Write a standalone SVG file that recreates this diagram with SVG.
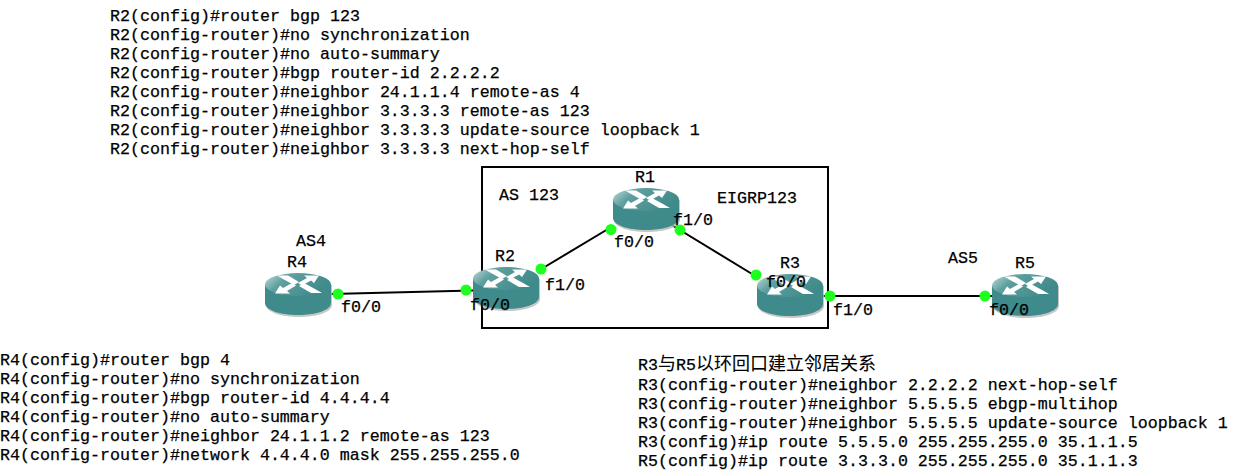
<svg xmlns="http://www.w3.org/2000/svg" width="1237" height="470" viewBox="0 0 1237 470">
<style>
text{font-family:"Liberation Mono","Noto Sans CJK SC",monospace;font-size:16.67px;fill:#000;stroke:#000;stroke-width:.25px}
.k{font-size:18px;stroke-width:.1px}
.c{fill:none;stroke:#000;stroke-width:2}
.d{fill:#1dff1d;stroke:none}
</style>
<defs>
<linearGradient id="top" x1="0" y1="0" x2="1" y2="0.4"><stop offset="0" stop-color="#c4dcdc"/><stop offset=".35" stop-color="#5f9f9f"/><stop offset="1" stop-color="#3f8a8a"/></linearGradient>
<g id="router">
<path d="M1 12V32C1 39 16 44 34 44C52 44 67 39 67 32V12Z" fill="#b9b9b9" opacity=".8"/>
<path d="M0 11.500V30C0 37 15 42 33 42C51 42 66 37 66 30V11.500Z" fill="#3f8a8a"/>
<ellipse cx="33" cy="11.500" rx="33" ry="11.500" fill="url(#top)"/>
<g fill="#fff">
<path d="M12 2.500H23L34 9L29 12L18 6Z"/>
<path d="M54 2.500H39L42 5L33 10L37 12.500L46 7.500L49 10Z"/>
<path d="M10 20.500H25L22 18L31 12.500L27 10L18 15L15 12.500Z"/>
<path d="M57 20H46L34 13L39 10L50 16Z"/>
</g>
</g>
</defs>
<g id="as-box"><rect x="482" y="167" width="346" height="161" class="c"/></g>
<g id="connectors">
<path class="c" d="M331 294L473 290.500"/>
<path class="c" d="M538 271L613 226"/>
<path class="c" d="M670 224L757 277"/>
<path class="c" d="M822 296H992"/>
</g>
<g id="R4"><use href="#router" x="265" y="273"/><text x="287" y="267">R4</text><text x="296" y="246">AS4</text></g>
<g id="R2"><use href="#router" x="473" y="267"/><text x="495" y="261">R2</text></g>
<g id="R1"><use href="#router" x="613" y="188"/><text x="635" y="182">R1</text></g>
<g id="R3"><use href="#router" x="757" y="274"/><text x="780" y="268">R3</text></g>
<g id="R5"><use href="#router" x="992" y="274"/><text x="1015" y="268">R5</text></g>
<g id="ports">
<circle class="d" cx="338" cy="294" r="5.500"/><circle class="d" cx="466" cy="290" r="5.500"/>
<circle class="d" cx="541" cy="269" r="5.500"/><circle class="d" cx="611" cy="229.500" r="5.500"/>
<circle class="d" cx="680" cy="230" r="5.500"/><circle class="d" cx="756" cy="275" r="5.500"/>
<circle class="d" cx="830" cy="296" r="5.500"/><circle class="d" cx="985" cy="296" r="5.500"/>
<text x="341" y="312">f0/0</text><text x="470" y="310">f0/0</text>
<text x="545" y="290">f1/0</text><text x="614" y="247">f0/0</text>
<text x="673" y="225">f1/0</text><text x="766" y="287">f0/0</text>
<text x="833" y="315">f1/0</text><text x="989" y="315">f0/0</text>
</g>
<g id="labels">
<text x="499" y="200">AS 123</text>
<text x="717" y="203">EIGRP123</text>
<text x="948" y="263">AS5</text>
</g>
<g id="r2-config">
<text x="110" y="21">R2(config)#router bgp 123</text>
<text x="110" y="40">R2(config-router)#no synchronization</text>
<text x="110" y="59">R2(config-router)#no auto-summary</text>
<text x="110" y="78">R2(config-router)#bgp router-id 2.2.2.2</text>
<text x="110" y="97">R2(config-router)#neighbor 24.1.1.4 remote-as 4</text>
<text x="110" y="116">R2(config-router)#neighbor 3.3.3.3 remote-as 123</text>
<text x="110" y="135">R2(config-router)#neighbor 3.3.3.3 update-source loopback 1</text>
<text x="110" y="154">R2(config-router)#neighbor 3.3.3.3 next-hop-self</text>
</g>
<g id="r4-config">
<text x="0" y="365">R4(config)#router bgp 4</text>
<text x="0" y="384">R4(config-router)#no synchronization</text>
<text x="0" y="403">R4(config-router)#bgp router-id 4.4.4.4</text>
<text x="0" y="422">R4(config-router)#no auto-summary</text>
<text x="0" y="441">R4(config-router)#neighbor 24.1.1.2 remote-as 123</text>
<text x="0" y="460">R4(config-router)#network 4.4.4.0 mask 255.255.255.0</text>
</g>
<g id="r3-config">
<text x="638" y="370">R3<tspan class="k">与</tspan>R5<tspan class="k">以环回口建立邻居关系</tspan></text>
<text x="638" y="390">R3(config-router)#neighbor 2.2.2.2 next-hop-self</text>
<text x="638" y="409">R3(config-router)#neighbor 5.5.5.5 ebgp-multihop</text>
<text x="638" y="428">R3(config-router)#neighbor 5.5.5.5 update-source loopback 1</text>
<text x="638" y="447">R3(config)#ip route 5.5.5.0 255.255.255.0 35.1.1.5</text>
<text x="638" y="466">R5(config)#ip route 3.3.3.0 255.255.255.0 35.1.1.3</text>
</g>
</svg>
